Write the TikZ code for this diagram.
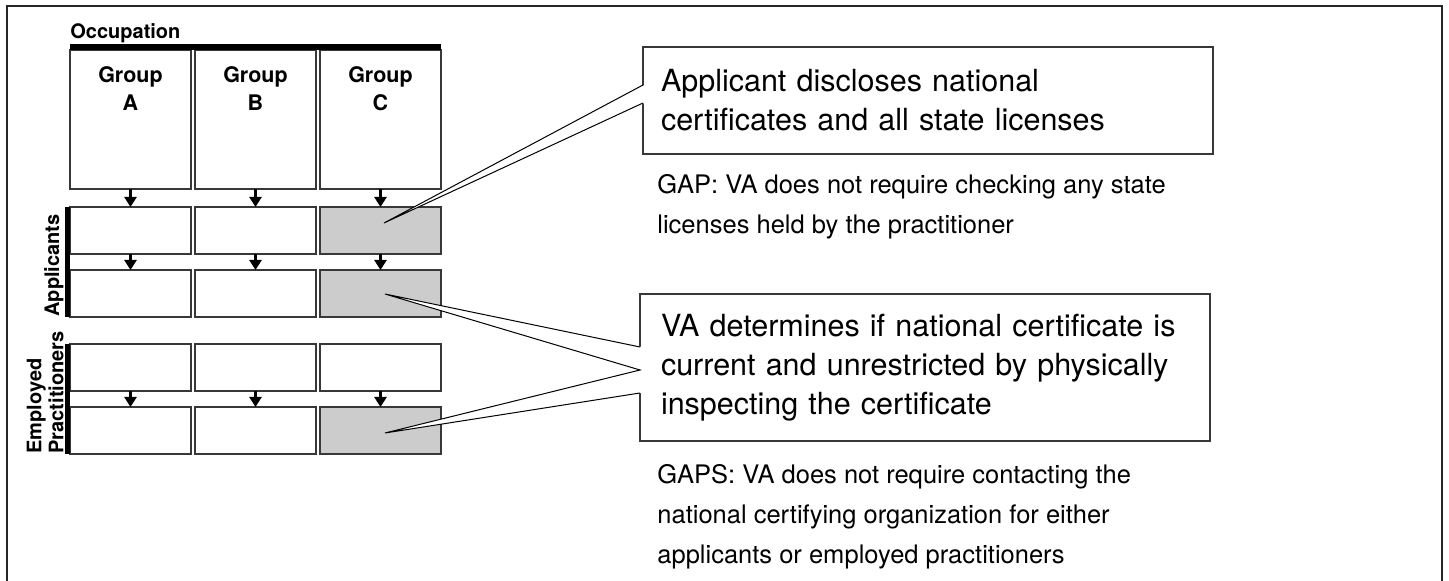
\documentclass[tikz,border=0pt]{standalone}
\usepackage{fontspec}
\setmainfont{TeX Gyre Heros}
\usetikzlibrary{positioning,arrows.meta}
\definecolor{gapgrey}{HTML}{CCCCCC}
\definecolor{edgegrey}{HTML}{383838}

\begin{document}
\begin{tikzpicture}[x=0.5pt, y=-0.5pt, >={Triangle[length=5pt,width=6pt]},
    cell/.style={draw=edgegrey, line width=0.9pt, rectangle, outer sep=0pt, inner sep=0pt,
        minimum width=60.5pt, minimum height=23.5pt},
    groupbox/.style={cell, minimum height=69.5pt},
    grouplabel/.style={font=\fontsize{10.75pt}{14pt}\selectfont\bfseries, align=center, inner sep=0pt},
    sidelabel/.style={font=\fontsize{10pt}{11pt}\selectfont\bfseries, align=left, inner sep=0pt,
        rotate=90, anchor=south west},
    callbox/.style={draw=edgegrey, line width=0.75pt, rectangle, outer sep=0pt, align=left,
        minimum width=285pt, font=\fontsize{15.25pt}{19.5pt}\selectfont},
    gaptext/.style={font=\fontsize{12.75pt}{20pt}\selectfont, align=left, inner sep=0pt, anchor=north west},
    pointer/.style={line width=0.5pt}]
        \useasboundingbox (0,0) rectangle (1449,581);

        % Frame
        \draw[line width=1pt, black!85] (7,581) -- (7,6) -- (1442,6) -- (1442,581);

        % Nodes
        \node [groupbox] (GA) at (130.5,119.5) {};
        \node [groupbox, right=2pt of GA] (GB) {};
        \node [groupbox, right=2pt of GB] (GC) {};

        \foreach \c/\f in {A/white,B/white,C/gapgrey} {
            \node [grouplabel, below=8pt of G\c.north] (L\c) {Group\\\c};
            \node [cell, fill=\f, below=9pt of G\c] (R1\c) {};
            \node [cell, fill=\f, below=8pt of R1\c] (R2\c) {};
            \node [cell, below=13.5pt of R2\c] (R3\c) {};
            \node [cell, fill=\f, below=8pt of R3\c] (R4\c) {};

            % Arrows
            \draw[->, line width=1.2pt] (G\c) -- (R1\c);
            \draw[->, line width=1.2pt] (R1\c) -- (R2\c);
            \draw[->, line width=1.2pt] (R3\c) -- (R4\c);
        }

        % Headings and bars
        \node [font=\fontsize{10pt}{11pt}\selectfont\bfseries, inner sep=0pt,
            above right=3.5pt and 0pt of GA.north west] (OCC) {Occupation};
        \draw[line width=3pt] ([yshift=1.5pt]GA.north west) -- ([yshift=1.5pt]GC.north east);
        \draw[line width=2.5pt] ([xshift=-1.25pt]R1A.north west) -- ([xshift=-1.25pt]R2A.south west);
        \draw[line width=2.5pt] ([xshift=-1.25pt]R3A.north west) -- ([xshift=-1.25pt]R4A.south west);
        \node [sidelabel] (APP) at ([xshift=-3pt]R2A.south west) {Applicants};
        \node [sidelabel] (EMP) at ([xshift=-3pt]R4A.south west) {Employed\\Practitioners};

        % Callouts
        \node [callbox, text width=267pt, inner xsep=9pt, minimum height=53.5pt] (T1) at (928,100.5)
            {Applicant discloses national\\certificates and all state licenses};
        \node [gaptext] (N1) at ([shift={(14,20)}]T1.south west)
            {GAP: VA does not require checking any state\\licenses held by the practitioner};
        \node [callbox, text width=264pt, inner xsep=10.5pt, minimum height=73.5pt] (T2) at (925,367.5)
            {VA determines if national certificate is\\current and unrestricted by physically\\inspecting the certificate};
        \node [gaptext] (N2) at ([shift={(17,23)}]T2.south west)
            {GAPS: VA does not require contacting the\\national certifying organization for either\\applicants or employed practitioners};

        % Pointers into the grey cells
        \coordinate (P1) at ([shift={(3.5,-7.5)}]R1C.center);
        \coordinate (P2) at ([shift={(4.5,0.5)}]R2C.center);
        \coordinate (P3) at ([shift={(4.5,2.5)}]R4C.center);

        \fill[white] ([shift={(1.5,38)}]T1.north west) -- (P1) -- ([shift={(1.5,56)}]T1.north west) -- cycle;
        \draw[pointer] ([shift={(0,38)}]T1.north west) -- (P1) -- ([shift={(0,56)}]T1.north west);

        \fill[white] ([shift={(1.5,53)}]T2.north west) -- (P2) -- ([shift={(0,76)}]T2.north west)
            -- (P3) -- ([shift={(1.5,99)}]T2.north west) -- cycle;
        \draw[pointer] ([shift={(0,53)}]T2.north west) -- (P2) -- ([shift={(0,76)}]T2.north west)
            -- (P3) -- ([shift={(0,99)}]T2.north west);
    \end{tikzpicture}
\end{document}
